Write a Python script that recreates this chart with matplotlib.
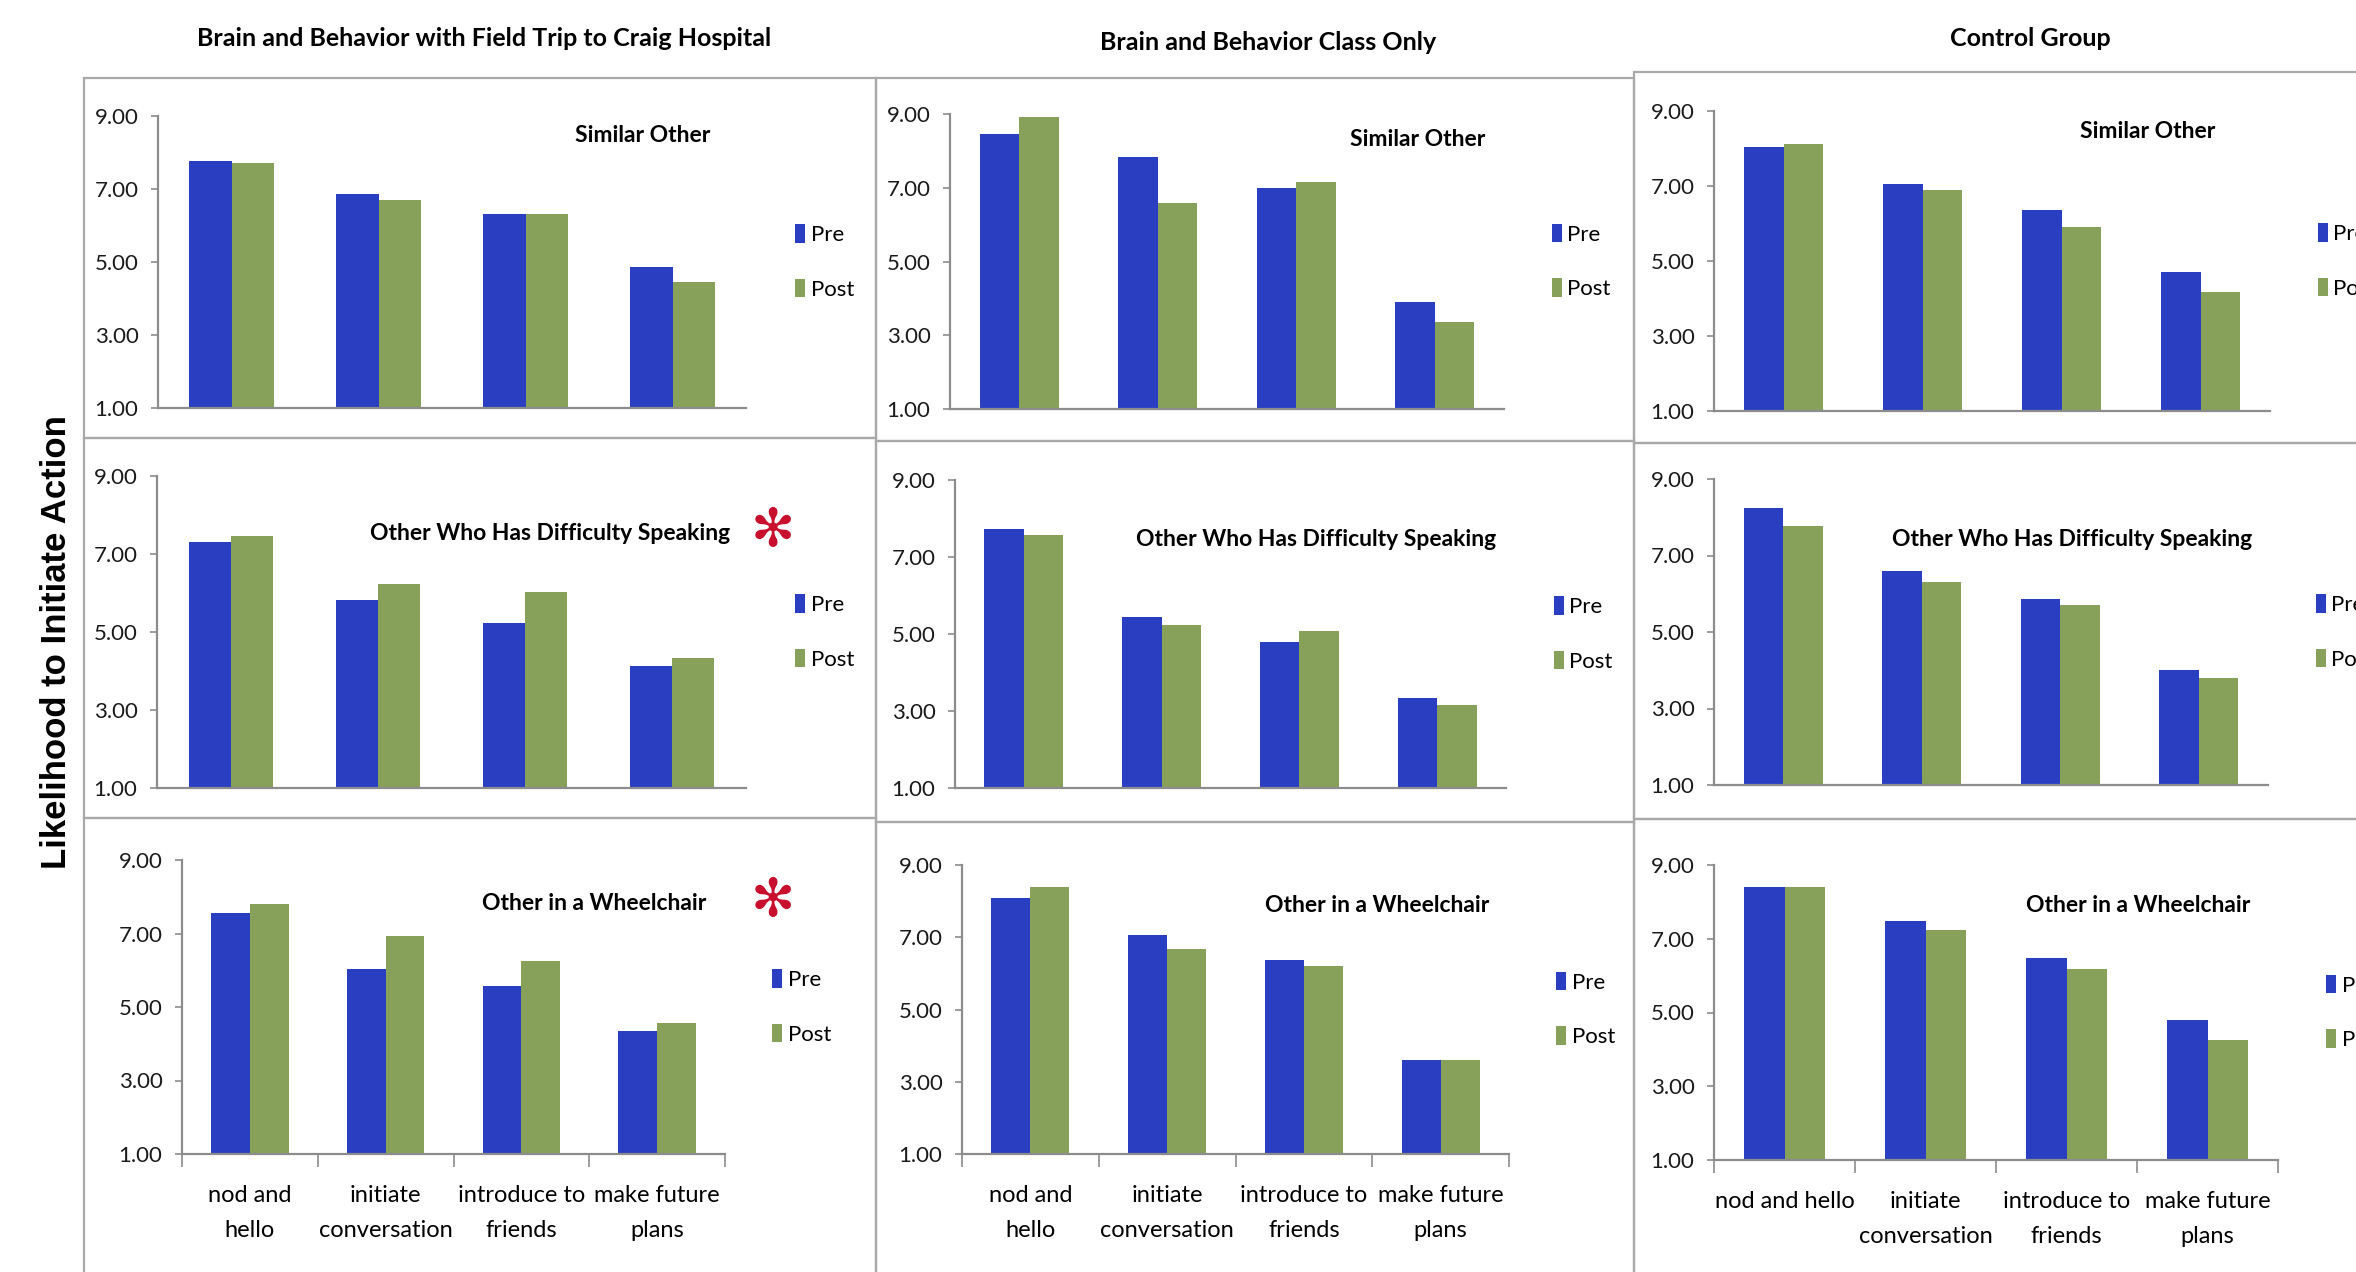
import numpy as np
import matplotlib.pyplot as plt
from matplotlib.patches import Rectangle

# column groups and rows (target person)
groups = ["Brain and Behavior with Field Trip to Craig Hospital",
          "Brain and Behavior Class Only",
          "Control Group"]
targets = ["Similar Other", "Other Who Has Difficulty Speaking", "Other in a Wheelchair"]
actions = ["nod and\nhello", "initiate\nconversation", "introduce to\nfriends", "make future\nplans"]
actions_control = ["nod and hello", "initiate\nconversation", "introduce to\nfriends", "make future\nplans"]
series = ["Pre", "Post"]
yticks = [1, 3, 5, 7, 9]

# one row per target, one value per action
field_trip_pre = [[7.78, 6.85, 6.32, 4.85],
                  [7.31, 5.81, 5.23, 4.14],
                  [7.56, 6.03, 5.58, 4.34]]
field_trip_post = [[7.70, 6.70, 6.32, 4.45],
                   [7.46, 6.23, 6.02, 4.34],
                   [7.79, 6.93, 6.26, 4.57]]
class_pre = [[8.46, 7.84, 6.98, 3.91],
             [7.73, 5.45, 4.80, 3.33],
             [8.09, 7.06, 6.36, 3.61]]
class_post = [[8.91, 6.60, 7.15, 3.37],
              [7.57, 5.24, 5.08, 3.16],
              [8.40, 6.67, 6.20, 3.61]]
control_pre = [[8.04, 7.06, 6.36, 4.70],
               [8.24, 6.60, 5.86, 4.01],
               [8.39, 7.48, 6.49, 4.80]]
control_post = [[8.11, 6.90, 5.92, 4.18],
                [7.78, 6.30, 5.71, 3.79],
                [8.39, 7.24, 6.17, 4.25]]

# which panels got a significance star (row, col)
starred = [(1, 0), (2, 0)]

pre_all = [field_trip_pre, class_pre, control_pre]
post_all = [field_trip_post, class_post, control_post]

BLUE = "#2a3ec2"
GREEN = "#88a15a"
BORDER = "#a9a9a9"
AXIS = "#8c8c8c"

plt.rcParams['font.family'] = ['Lato', 'DejaVu Sans']

W, H = 2356, 1272
fig = plt.figure(figsize=(W / 100, H / 100), dpi=100)


def fx(x):
    return x / W


def fy(y):
    return 1 - y / H


# panel frames, pixel boxes (left, top, right, bottom)
frames = [
    [(84, 78, 876, 438), (84, 438, 876, 818), (84, 818, 876, 1290)],
    [(876, 78, 1634, 441), (876, 441, 1634, 822), (876, 822, 1634, 1290)],
    [(1634, 72, 2380, 443), (1634, 443, 2380, 819), (1634, 819, 2380, 1290)],
]
# plot areas inside frames
boxes = [
    [(158, 116, 746, 408), (157, 476, 746, 788), (182, 860, 725, 1154)],
    [(950, 114, 1504, 409), (955, 480, 1506, 788), (962, 865, 1509, 1154)],
    [(1714, 111, 2270, 411), (1714, 479, 2268, 785), (1714, 865, 2278, 1160)],
]
# centre of the small title in each panel
sub_pos = [
    [(643, 136), (550, 533), (594, 903)],
    [(1418, 140), (1316, 540), (1377, 906)],
    [(2148, 131), (2072, 539), (2138, 906)],
]
title_pos = [(484, 39), (1268, 42), (2030, 39)]

for c in range(3):
    for r in range(3):
        x0, y0, x1, y1 = frames[c][r]
        fig.patches.append(Rectangle((fx(x0), fy(y1)), fx(x1 - x0), (y1 - y0) / H,
                                     transform=fig.transFigure, fill=False,
                                     edgecolor=BORDER, linewidth=1.6, zorder=0))

bw = 0.286
x = np.arange(len(actions))

for c in range(3):
    fig.text(fx(title_pos[c][0]), fy(title_pos[c][1]), groups[c], ha='center', va='center',
             fontsize=18, fontweight='bold')
    for r in range(3):
        left, top, right, bottom = boxes[c][r]
        ax = fig.add_axes([fx(left), fy(bottom), fx(right - left), (bottom - top) / H])
        b1 = ax.bar(x - bw / 2, pre_all[c][r], bw, bottom=0, color=BLUE, label=series[0])
        b2 = ax.bar(x + bw / 2, post_all[c][r], bw, bottom=0, color=GREEN, label=series[1])
        ax.set_xlim(-0.5, 3.5)
        ax.set_ylim(1, 9)
        ax.set_yticks(yticks)
        ax.set_yticklabels(["%.2f" % t for t in yticks])
        for s in ['top', 'right']:
            ax.spines[s].set_visible(False)
        for s in ['left', 'bottom']:
            ax.spines[s].set_color(AXIS)
            ax.spines[s].set_linewidth(1.6)
        ax.tick_params(axis='y', direction='out', length=5, width=1.2, color=AXIS,
                       labelsize=16, pad=9, labelcolor='#1a1a1a')
        if r == 2:
            ax.set_xticks(x)
            ax.set_xticklabels(actions_control if c == 2 else actions, fontsize=17,
                               linespacing=1.85)
            ax.set_xticks(np.arange(-0.5, 4, 1), minor=True)
            ax.tick_params(axis='x', which='major', length=0, pad=22)
            ax.tick_params(axis='x', which='minor', direction='out', length=9,
                           width=1.2, color=AXIS)
        else:
            ax.set_xticks([])
        ax.legend(handles=[b1, b2], loc='center left', bbox_to_anchor=(1.05, 0.5),
                  frameon=False, fontsize=16, handlelength=0.45, handleheight=0.9,
                  handletextpad=0.25, labelspacing=1.5)
        sx, sy = sub_pos[c][r]
        fig.text(fx(sx), fy(sy), targets[r], ha='center', va='center', fontsize=16.5,
                 fontweight='bold')
        if (r, c) in starred:
            fig.text(fx(773), fy(sy - 2), "\u273b", ha='center', va='center',
                     fontsize=38, color='#c8102e', family='DejaVu Sans')

fig.text(fx(57), fy(642), "Likelihood to Initiate Action", rotation=90, ha='center',
         va='center', fontsize=25, fontweight='bold', family='Liberation Sans')

fig.savefig("out.png", dpi=100)
